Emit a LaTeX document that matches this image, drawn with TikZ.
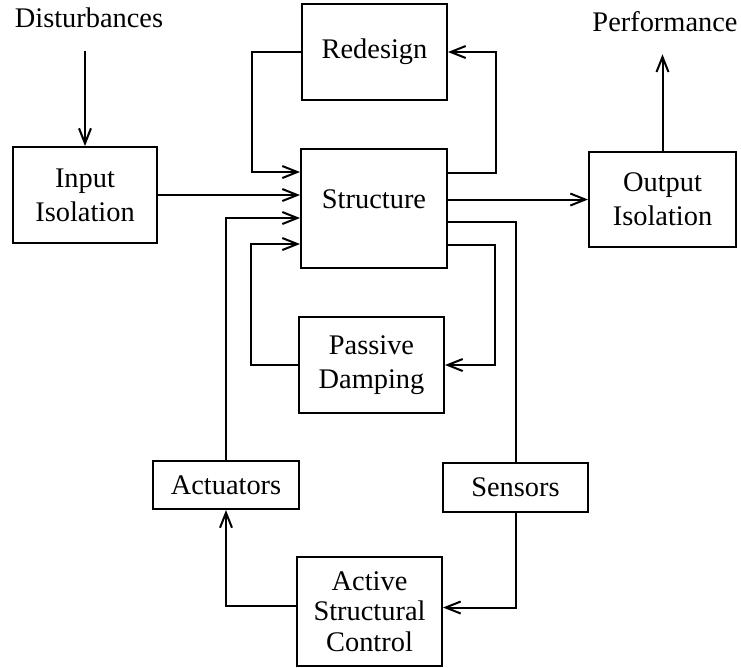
\documentclass[tikz,border=0pt]{standalone}
\usepackage{fontspec}
\setmainfont{Liberation Serif}
\usetikzlibrary{arrows.meta,calc}
\begin{document}
\begin{tikzpicture}[x=1pt,y=-1pt,
  line width=2pt,
  blk/.style={draw, inner sep=0pt, align=center, font={\fontsize{28.4}{34}\selectfont}},
  lbl/.style={inner sep=0pt, anchor=base, font={\fontsize{28.4}{34}\selectfont}},
  arr/.style={-{Straight Barb[length=15pt,width=12pt]}}]
\useasboundingbox (0,0) rectangle (741,667);
% text labels
\node[lbl] (dist) at (89,27) {Disturbances};
\node[lbl] (perf) at (665,31) {Performance};
% blocks
\node[blk, minimum width=144pt, minimum height=96pt] (inp) at (85,195) {Input\\Isolation};
\node[blk, minimum width=145pt, minimum height=96pt] (red) at (374.5,52) {Redesign};
\node[blk, minimum width=146pt, minimum height=119pt, text height=20pt, text depth=20pt] (str) at (374,208.5) {Structure};
\node[blk, minimum width=147pt, minimum height=95pt] (out) at (662.5,199.5) {Output\\Isolation};
\node[blk, minimum width=145pt, minimum height=96pt] (pas) at (371.5,365) {Passive\\Damping};
\node[blk, minimum width=146pt, minimum height=48pt] (act) at (226,485) {Actuators};
\node[blk, minimum width=145pt, minimum height=49pt] (sen) at (515.5,487.5) {Sensors};
\node[blk, minimum width=145pt, minimum height=109pt, font={\fontsize{28.4}{30.5}\selectfont}] (asc) at (369.5,611.5) {Active\\Structural\\Control};
% connectors
\draw[arr] ([yshift=-23pt]dist.south -| inp.north) -- (inp.north);
\draw[arr] (out.north) -- ([yshift=-22pt]perf.south -| out.north);
\draw[arr] (red.west) -- ++(-49,0) |- ($(str.north west)+(0,24)$);
\draw[arr] ($(str.north east)+(0,25)$) -- ++(48,0) |- (red.east);
\draw[arr] (inp.east) -- (inp.east -| str.west);
\draw[arr] (str.east |- out.west) -- (out.west);
\draw[arr] (act.north) |- ($(str.north west)+(0,70)$);
\draw[arr] (pas.west) -- ++(-47,0) |- ($(str.north west)+(0,96)$);
\draw ($(str.north east)+(0,74)$) -| (sen.north);
\draw[arr] ($(str.north east)+(0,97)$) -- ++(47,0) |- (pas.east);
\draw[arr] (sen.south) |- ($(asc.east)+(0,-4)$);
\draw[arr] ($(asc.west)+(0,-6)$) -| (act.south);
\end{tikzpicture}
\end{document}
